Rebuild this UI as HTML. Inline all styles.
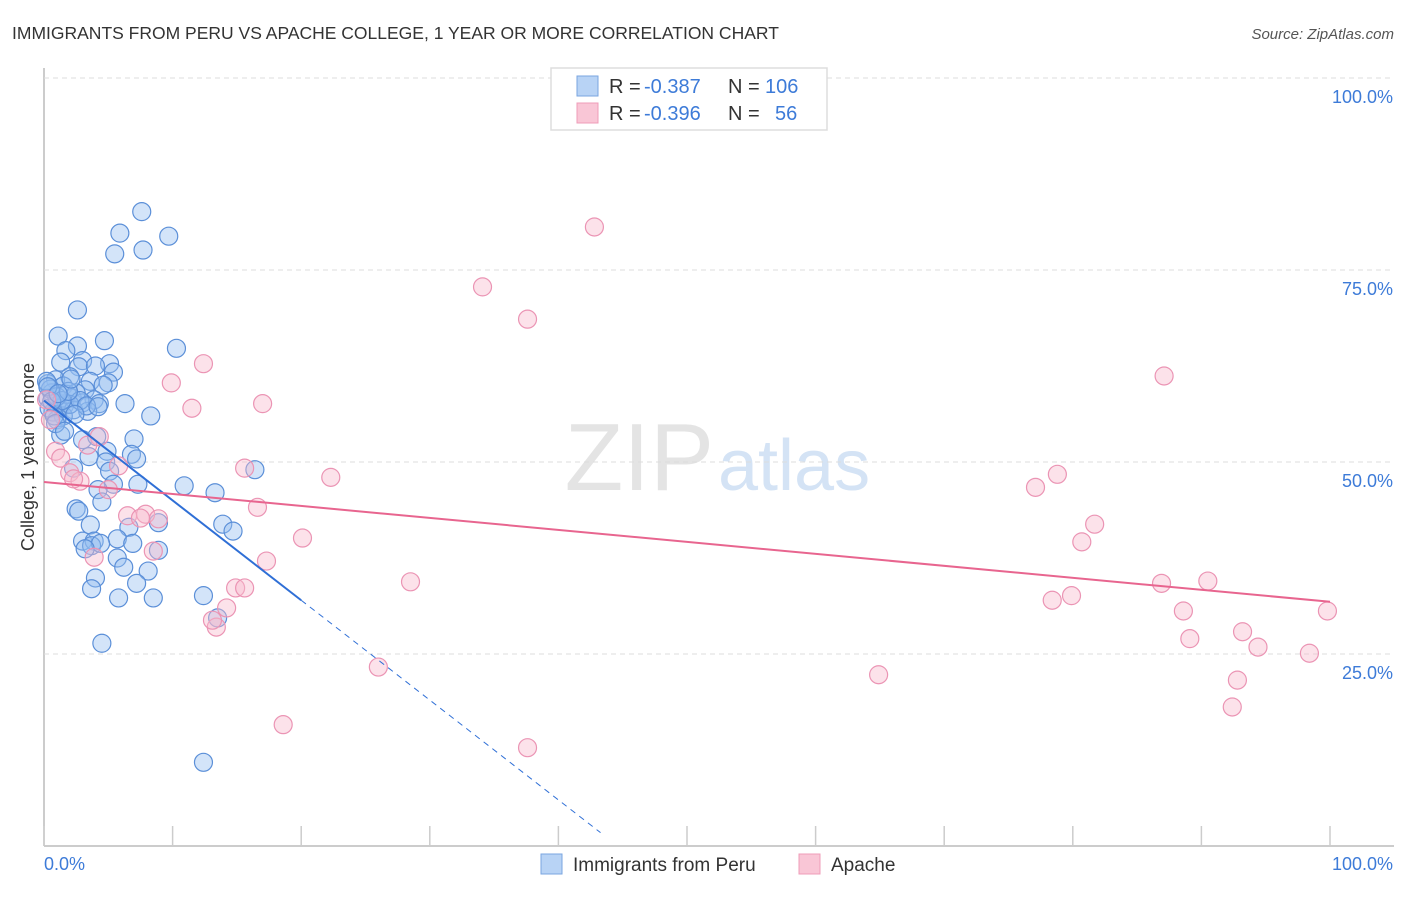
<!DOCTYPE html>
<html><head><meta charset="utf-8"><style>
body{margin:0;background:#fff;font-family:"Liberation Sans",sans-serif;}
svg text{font-family:"Liberation Sans",sans-serif;}
</style></head><body>
<svg id="chart" width="1406" height="892" xmlns="http://www.w3.org/2000/svg">
<text x="12" y="39" font-size="17.5" fill="#333">IMMIGRANTS FROM PERU VS APACHE COLLEGE, 1 YEAR OR MORE CORRELATION CHART</text>
<text x="1394" y="39" font-size="15" fill="#555" text-anchor="end" font-style="italic">Source: ZipAtlas.com</text>
<text x="714" y="490" font-size="96" fill="#e4e4e4" text-anchor="end" font-family="Liberation Serif">ZIP</text>
<text x="718" y="490" font-size="72" fill="#d4e3f5">atlas</text>
<text transform="translate(34,457) rotate(-90)" font-size="18" fill="#333" text-anchor="middle">College, 1 year or more</text>
<g id="grid"></g><g id="pts"></g><g id="lines"></g>
<g>
<rect x="551" y="68" width="276" height="62" fill="#fff" stroke="#ddd" stroke-width="1.5"/>
<rect x="577" y="76" width="21" height="20" fill="#b8d3f5" stroke="#7aa6e0"/>
<rect x="577" y="103" width="21" height="20" fill="#f9c6d6" stroke="#ef9cb8"/>
<text x="609" y="93" font-size="20" fill="#333">R =</text>
<text x="644" y="93" font-size="20" fill="#3d7bd8">-0.387</text>
<text x="728" y="93" font-size="20" fill="#333">N =</text>
<text x="765" y="93" font-size="20" fill="#3d7bd8">106</text>
<text x="609" y="120" font-size="20" fill="#333">R =</text>
<text x="644" y="120" font-size="20" fill="#3d7bd8">-0.396</text>
<text x="728" y="120" font-size="20" fill="#333">N =</text>
<text x="775" y="120" font-size="20" fill="#3d7bd8">56</text>
</g>
<g>
<rect x="541" y="854" width="21" height="20" fill="#b8d3f5" stroke="#7aa6e0"/>
<text x="573" y="871" font-size="19" fill="#333">Immigrants from Peru</text>
<rect x="799" y="854" width="21" height="20" fill="#f9c6d6" stroke="#ef9cb8"/>
<text x="831" y="871" font-size="19" fill="#333">Apache</text>
</g>
<text x="44" y="870" font-size="18" fill="#3d7bd8">0.0%</text>
<text x="1393" y="870" font-size="18" fill="#3d7bd8" text-anchor="end">100.0%</text>
</svg>
<script>
const yTicks=[100,75,50,25];
const yTickLabels=["100.0%","75.0%","50.0%","25.0%"];
const xTicks=[0,10,20,30,40,50,60,70,80,90,100];
const blueX=[7.6,5.9,9.7,5.5,7.7,2.6,1.1,4.7,10.3,2.6,1.7,1.3,3.0,5.1,5.4,2.7,4.0,2.0,3.6,5.0,0.9,0.3,1.5,4.6,3.2,0.6,0.3,2.2,3.9,6.3,1.0,1.6,3.0,4.3,1.2,2.3,3.4,0.7,8.3,1.5,1.0,1.3,7.0,3.0,4.1,4.9,6.8,3.5,7.2,4.8,16.4,2.3,5.1,10.9,7.3,5.4,4.2,13.3,4.5,2.5,2.7,13.9,14.7,6.6,8.9,3.6,3.0,3.9,5.7,3.7,4.4,6.9,3.2,8.9,5.7,6.2,8.1,4.0,7.2,3.7,5.8,8.5,12.4,13.5,4.5,12.4,0.4,1.8,2.5,0.5,2.0,1.0,0.2,1.4,2.8,0.8,0.3,1.9,3.3,0.6,2.1,1.1,4.2,0.9,2.4,1.6];
const blueY=[82.6,79.8,79.4,77.1,77.6,69.8,66.4,65.8,64.8,65.1,64.5,63.0,63.2,62.8,61.7,62.4,62.5,61.1,60.5,60.3,60.7,60.2,59.9,60.0,59.4,59.0,58.3,58.3,58.1,57.6,57.7,57.4,57.7,57.6,57.0,56.8,56.6,56.5,56.0,56.0,55.5,53.5,53.0,52.9,53.3,51.4,51.0,50.7,50.4,50.0,49.0,49.2,48.8,46.9,47.1,47.1,46.4,46.0,44.8,43.9,43.6,41.9,41.0,41.5,42.1,41.8,39.7,39.7,40.0,39.1,39.4,39.4,38.7,38.5,37.5,36.3,35.8,34.9,34.2,33.5,32.3,32.3,32.6,29.7,26.4,10.9,57.0,58.8,59.0,59.5,57.5,58.5,60.5,58.0,58.0,56.0,59.8,59.2,57.3,57.9,60.8,58.9,57.2,55.0,56.2,54.0];
const pinkX=[42.8,34.1,37.6,12.4,9.9,87.1,11.5,17.0,0.9,1.3,4.3,3.4,2.0,2.8,2.3,5.8,15.6,22.3,78.8,77.1,5.0,16.6,6.5,7.9,7.5,8.9,20.1,81.7,80.7,8.5,3.9,17.3,28.5,14.9,15.6,86.9,90.5,79.9,78.4,14.2,13.4,88.6,99.8,89.1,93.2,94.4,98.4,26.0,64.9,92.8,92.4,18.6,37.6,0.5,0.2,13.1];
const pinkY=[80.6,72.8,68.6,62.8,60.3,61.2,57.0,57.6,51.4,50.5,53.3,52.2,48.6,47.5,47.8,49.5,49.2,48.0,48.4,46.7,46.4,44.1,43.0,43.2,42.7,42.6,40.1,41.9,39.6,38.4,37.6,37.1,34.4,33.6,33.6,34.2,34.5,32.6,32.0,31.0,28.5,30.6,30.6,27.0,27.9,25.9,25.1,23.3,22.3,21.6,18.1,15.8,12.8,55.5,58.1,29.4];
const blueTrend=[58,-1.3]; const pinkTrend=[47.4,-0.156];
const X=v=>44+v*12.86, Y=v=>846-v*7.68;
const NS="http://www.w3.org/2000/svg";
function mk(t,a,p){const e=document.createElementNS(NS,t);for(const k in a)e.setAttribute(k,a[k]);p.appendChild(e);return e;}
const grid=document.getElementById('grid');
mk('line',{x1:44,y1:68,x2:44,y2:846,stroke:'#bbb','stroke-width':1.5},grid);
mk('line',{x1:44,y1:846,x2:1394,y2:846,stroke:'#bbb','stroke-width':1.5},grid);
yTicks.forEach((t,i)=>{
 const l=mk('line',{x1:44,y1:Y(t),x2:1394,y2:Y(t),stroke:'#ddd','stroke-dasharray':'5,4'},grid);
 
 
 const tx=mk('text',{x:1393,y:Y(t)+25,'font-size':18,fill:'#3d7bd8','text-anchor':'end'},grid);
 tx.textContent=yTickLabels[i];
 
 
});
xTicks.forEach(t=>{
 const l=mk('line',{x1:X(t),y1:826,x2:X(t),y2:846,stroke:'#ccc','stroke-width':1.5},grid);
 
 
});
const pts=document.getElementById('pts');
blueX.forEach((x,i)=>{
 const c=mk('circle',{cx:X(x),cy:Y(blueY[i]),r:9,fill:'rgba(150,190,240,0.42)',stroke:'#5b8fd8','stroke-width':1.2},pts);
 
 
});
pinkX.forEach((x,i)=>{
 const c=mk('circle',{cx:X(x),cy:Y(pinkY[i]),r:9,fill:'rgba(248,185,205,0.42)',stroke:'#eb94b4','stroke-width':1.2},pts);
 
 
});
const lines=document.getElementById('lines');
const bt=x=>blueTrend[0]+blueTrend[1]*x, pt=x=>pinkTrend[0]+pinkTrend[1]*x;
let l1=mk('line',{x1:X(0),y1:Y(bt(0)),x2:X(20),y2:Y(bt(20)),stroke:'#2f6fd6','stroke-width':2},lines);


const xe=-blueTrend[0]/blueTrend[1]*0.97;
let l2=mk('line',{x1:X(20),y1:Y(bt(20)),x2:X(xe),y2:Y(bt(xe)),stroke:'#2f6fd6','stroke-width':1,'stroke-dasharray':'6,5'},lines);


let l3=mk('line',{x1:X(0),y1:Y(pt(0)),x2:X(100),y2:Y(pt(100)),stroke:'#e8658f','stroke-width':2},lines);


</script>
</body></html>
